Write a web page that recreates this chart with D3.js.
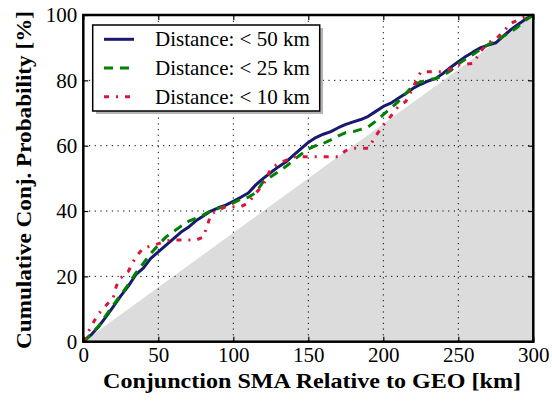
<!DOCTYPE html>
<html><head><meta charset="utf-8">
<script src="https://cdn.jsdelivr.net/npm/d3@7"></script>
<style>body{margin:0;background:#fff}svg{display:block}</style>
</head><body>
<svg id="c" width="552" height="403"></svg>
<script>
const xTicks = [0, 50, 100, 150, 200, 250, 300];
const yTicks = [0, 20, 40, 60, 80, 100];
const seriesNames = ["Distance: < 50 km", "Distance: < 25 km", "Distance: < 10 km"];

const x50 = [0,5,10,15,20,25,30,35,40,45,50,55,60,65,70,75,80,85,90,95,100,105,110,115,120,125,130,135,140,145,150,155,160,165,170,175,180,185,190,195,200,205,210,215,220,225,230,235,240,245,250,255,260,265,270,275,280,285,290,295,300];
const y50 = [0,2,4.5,7.5,10.7,14,17,20.5,22.5,25.5,27.5,29.5,31.5,33.5,35,37,38.5,40,41,41.8,43,44.2,45.5,48,50,51.8,53.5,55,57,59,61,62.5,63.5,64.3,65.5,66.5,67.3,68,69,70.5,72,73,74.5,76,77.6,78.8,79.8,80.6,82.2,84,85.7,87.3,88.7,90,90.8,91.5,93.5,95.5,97.2,98.8,100];

const x25 = [0,5,10,15,20,25,30,35,40,45,50,55,60,65,70,75,80,85,90,95,100,105,110,115,120,125,130,135,140,145,150,155,160,165,170,175,180,185,190,195,200,205,210,215,220,225,230,235,240,245,250,255,260,265,270,275,280,285,290,295,300];
const y25 = [0,2.3,4.6,8,11.2,14.3,17.5,21,24,27,29.6,32,33.7,35.3,36.8,37.8,38.8,40,40.8,41.5,42.5,43.6,44.2,45.6,49,50.5,52,53.6,55.5,57.3,59,60,60.7,61.8,63,64,64.3,65,65.8,67.5,69.5,71.5,73.5,76,78.5,79.5,80.2,80.5,81.5,83,85,86.5,88,89.5,91,92,93.5,94.8,96.5,98.5,100];

const x10 = [0,5,10,15,20,22,25,30,35,40,45,50,55,60,65,70,75,80,83,85,90,95,100,105,110,115,120,125,130,135,140,150,160,170,175,180,190,195,200,205,210,215,220,225,230,240,245,250,260,265,270,275,280,285,290,295,300];
const y10 = [0,4.5,8.5,11,13.5,17,19.5,21.5,26,28.6,29.3,30,30.8,31.1,31.1,31.1,31.1,32,36,39,40.3,41.3,41.3,41.3,42.5,45.5,48,53,54.5,55.5,56.6,56.6,56.6,56.6,58.5,59.2,59.2,63,66.3,69,72,73.5,78,82.6,82.6,82.6,83.5,84.7,85.2,89,91.5,92.6,94.9,97.5,98.5,99.5,100];

const colors = ["#191970", "#008000", "#dc143c"];
const dashes = [null, "9,7", "5,7,2,7"];
const FONT = "Liberation Serif";

const svg = d3.select("#c");
const L = 83.3, R = 533.3, T = 15, B = 341.7;
const x = d3.scaleLinear().domain([0, 300]).range([L, R]);
const y = d3.scaleLinear().domain([0, 100]).range([B, T]);

// gray reference triangle (uniform distribution)
const tri = [[0,0],[300,100],[300,0]];
svg.append("path")
  .attr("d", d3.line().x(d => x(d[0])).y(d => y(d[1]))(tri) + "Z")
  .attr("fill", "#dcdcdc");

// grid
svg.append("g").selectAll("line").data(xTicks.slice(1, -1)).join("line")
  .attr("x1", d => x(d)).attr("x2", d => x(d)).attr("y1", T).attr("y2", B)
  .attr("stroke", "#000").attr("stroke-width", 1).attr("stroke-dasharray", "1.2,4.5");
svg.append("g").selectAll("line").data(yTicks.slice(1, -1)).join("line")
  .attr("y1", d => y(d)).attr("y2", d => y(d)).attr("x1", L).attr("x2", R)
  .attr("stroke", "#000").attr("stroke-width", 1).attr("stroke-dasharray", "1.2,4.5");

// series
const data = [[x50, y50], [x25, y25], [x10, y10]];
const line = d3.line().x(d => x(d[0])).y(d => y(d[1]));
data.forEach((s, i) => {
  const pts = s[0].map((v, k) => [v, s[1][k]]);
  svg.append("path").attr("d", line(pts))
    .attr("fill", "none").attr("stroke", colors[i]).attr("stroke-width", 3)
    .attr("stroke-linejoin", "round")
    .attr("stroke-dasharray", dashes[i]);
});

// axes with inward ticks
const axB = d3.axisBottom(x).tickValues(xTicks).tickSize(-5).tickPadding(5);
const axT = d3.axisTop(x).tickValues(xTicks).tickSize(-5).tickFormat("");
const axL = d3.axisLeft(y).tickValues(yTicks).tickSize(-5).tickPadding(6);
const axR = d3.axisRight(y).tickValues(yTicks).tickSize(-5).tickFormat("");
function style(g) {
  g.attr("font-family", FONT).attr("font-size", 21);
  g.select(".domain").remove();
  g.selectAll(".tick line").attr("stroke", "#000").attr("stroke-width", 1.2);
  g.selectAll("text").attr("font-family", FONT).attr("font-size", 21).attr("fill", "#000");
}
svg.append("g").attr("transform", `translate(0,${B})`).call(axB).call(style);
svg.append("g").attr("transform", `translate(0,${T})`).call(axT).call(style);
svg.append("g").attr("transform", `translate(${L},0)`).call(axL).call(style);
svg.append("g").attr("transform", `translate(${R},0)`).call(axR).call(style);

// frame
svg.append("rect").attr("x", L).attr("y", T).attr("width", R - L).attr("height", B - T)
  .attr("fill", "none").attr("stroke", "#000").attr("stroke-width", 2.5);

// axis labels
svg.append("text").attr("x", 312).attr("y", 388).attr("text-anchor", "middle")
  .attr("font-family", FONT).attr("font-weight", "bold").attr("font-size", 21)
  .attr("textLength", 418).attr("lengthAdjust", "spacingAndGlyphs")
  .text("Conjunction SMA Relative to GEO [km]");
svg.append("text").attr("transform", "translate(31,180) rotate(-90)").attr("text-anchor", "middle")
  .attr("font-family", FONT).attr("font-weight", "bold").attr("font-size", 21)
  .attr("textLength", 338).attr("lengthAdjust", "spacingAndGlyphs")
  .text("Cumulative Conj. Probability [%]");

// legend
const lg = svg.append("g");
lg.append("rect").attr("x", 96).attr("y", 28).attr("width", 227).attr("height", 86).attr("fill", "#b4b4b4");
lg.append("rect").attr("x", 92.7).attr("y", 25).attr("width", 227).attr("height", 86)
  .attr("fill", "#fff").attr("stroke", "#000").attr("stroke-width", 1.5);
seriesNames.forEach((n, i) => {
  const yy = 39.3 + i * 28.7;
  lg.append("line").attr("x1", 104).attr("x2", 134).attr("y1", yy).attr("y2", yy)
    .attr("stroke", colors[i]).attr("stroke-width", 3).attr("stroke-dasharray", dashes[i]);
  lg.append("text").attr("x", 155).attr("y", yy + 7).attr("font-family", FONT).attr("font-size", 21)
    .attr("fill", "#000").text(n);
});
</script>
</body></html>
